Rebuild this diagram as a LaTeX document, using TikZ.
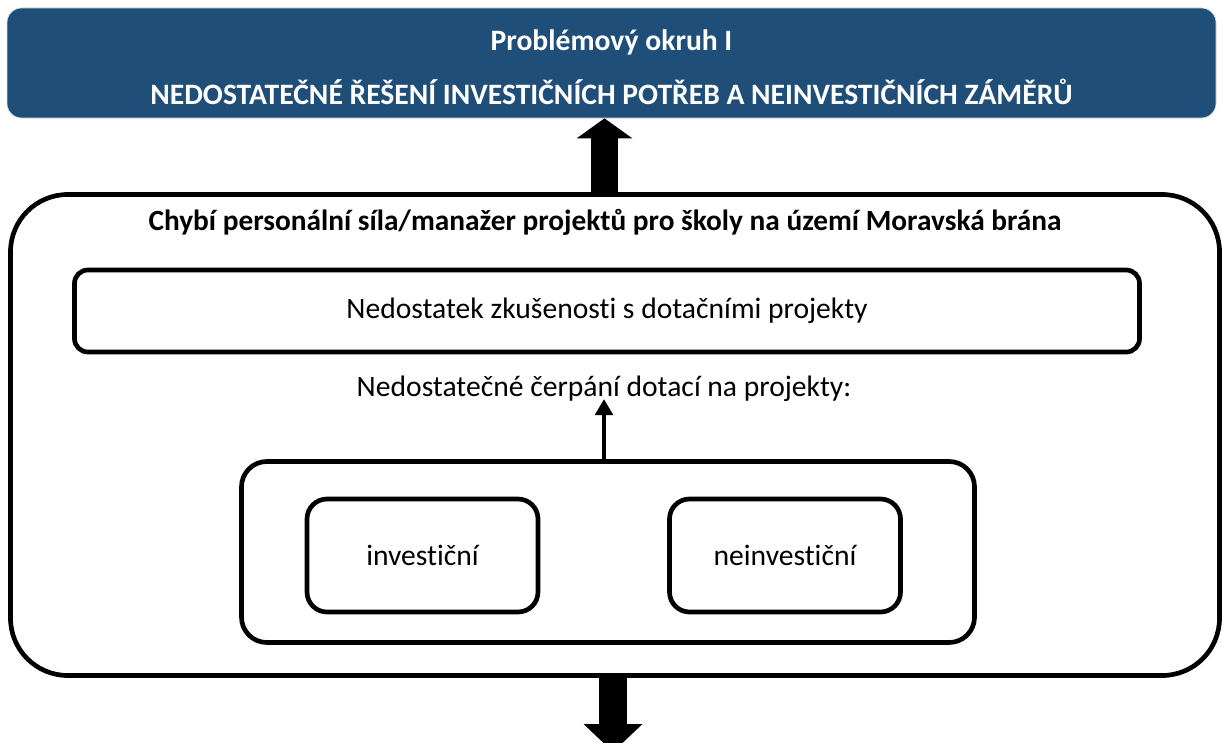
\documentclass[tikz,border=0pt]{standalone}
\usepackage{fontspec}
\setmainfont{Carlito}[Ligatures=NoCommon]
\usetikzlibrary{arrows.meta}
\definecolor{bannerblue}{RGB}{31,78,121}
\tikzset{
  px/.style={x=0.75pt,y=-0.75pt},
  frame/.style={draw=black,line width=3.5pt,rounded corners=#1,inner sep=0pt},
  bigarrow/.style={line width=20.5pt,-{Triangle[length=15pt,width=41pt]}},
  thinarrow/.style={line width=3.5pt,-{Triangle[length=12pt,width=13pt]}},
  regtext/.style={font=\fontsize{22.2pt}{26pt}\selectfont},
  boldtext/.style={font=\bfseries\fontsize{22pt}{26pt}\selectfont},
  bantext/.style={text=white,font=\bfseries\fontsize{22.2pt}{26pt}\selectfont},
}
\begin{document}
\begin{tikzpicture}[px]
\useasboundingbox (0,0) rectangle (1223,742);
% banner
\node[fill=bannerblue,draw=gray!30,line width=0.5pt,rounded corners=11pt,minimum width=1209*0.75pt,minimum height=110*0.75pt,inner sep=0pt] (banner) at (611.5,63) {};
\node[bantext] (ban1) at (611.5,42) {Problémový okruh I};
\node[bantext] (ban2) at (611.5,92) {NEDOSTATEČNÉ ŘEŠENÍ INVESTIČNÍCH POTŘEB A NEINVESTIČNÍCH ZÁMĚRŮ};
% outer box
\node[frame=43pt,minimum width=1209*0.75pt,minimum height=481*0.75pt] (outer) at (615,435) {};
\node[boldtext] (title) at (605,222) {Chybí personální síla/manažer projektů pro školy na území Moravská brána};
% box 1
\node[frame=10pt,minimum width=1065*0.75pt,minimum height=82*0.75pt,regtext] (zkus) at (607,311) {Nedostatek zkušenosti s dotačními projekty};
\node[regtext] (cerp) at (604,389) {Nedostatečné čerpání dotací na projekty:};
% box 2
\node[frame=19pt,minimum width=733*0.75pt,minimum height=181*0.75pt] (group) at (608,552) {};
\node[frame=15pt,minimum width=231*0.75pt,minimum height=113*0.75pt,regtext] (inv) at (422.5,555.5) {investiční};
\node[frame=15pt,minimum width=231*0.75pt,minimum height=113*0.75pt,regtext] (neinv) at (785,555.5) {neinvestiční};
% arrows
\coordinate (topA) at (604.5,194.5);
\coordinate (topB) at (604.5,118);
\draw[bigarrow] (outer.north -| topA) -- (banner.south -| topB);
\coordinate (botA) at (613,676);
\coordinate (botB) at (613,752);
\draw[bigarrow,line width=21pt,-{Triangle[length=21pt,width=43pt]}] (outer.south -| botA) -- (botB);
\coordinate (smA) at (604,462);
\coordinate (smB) at (604,399);
\draw[thinarrow] (group.north -| smA) -- (smB);
\end{tikzpicture}
\end{document}
